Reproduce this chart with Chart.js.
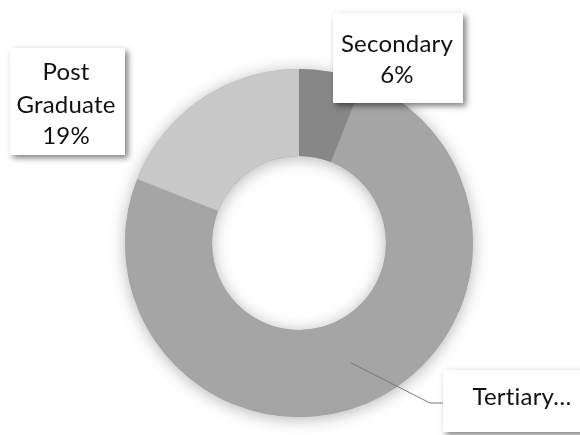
<!DOCTYPE html>
<html>
<head>
<meta charset="utf-8">
<script src="https://cdn.jsdelivr.net/npm/chart.js@4.4.1/dist/chart.umd.min.js"></script>
<style>
  html, body { margin: 0; padding: 0; background: #ffffff; }
  #wrap { width: 580px; height: 435px; position: relative; }
</style>
</head>
<body>
<div id="wrap"><canvas id="c" width="580" height="435"></canvas></div>
<script>
// Education level shares (percent)
const categories = ['Secondary', 'Tertiary', 'Post Graduate'];
const shares = [6, 75, 19];
const sliceColors = ['#878787', '#a5a5a5', '#c8c8c8'];

const FONT = '24px Lato, "Open Sans", sans-serif';

// Callout boxes: rectangle, text centre, line baselines, and how the label text is built
const callouts = [
  { x: 333, y: 13, w: 130, h: 90, cx: 397, baselines: [52, 83],
    lines: (name, v) => [name, v + '%'] },
  { x: 443, y: 370, w: 150, h: 62, cx: 522, baselines: [405],
    lines: (name) => [name + '\u2026'], leader: { elbowX: 430, elbowY: 403, endX: 444 } },
  { x: 10, y: 48, w: 115, h: 107, cx: 66, baselines: [80, 113, 144],
    lines: (name, v) => [...name.split(' '), v + '%'] }
];

// Soft shadow under the whole ring, drawn before the slices
const ringShadow = {
  id: 'ringShadow',
  beforeDatasetsDraw(chart) {
    const arc = chart.getDatasetMeta(0).data[0];
    if (!arc) return;
    const { x, y, outerRadius, innerRadius } = arc.getProps(['x', 'y', 'outerRadius', 'innerRadius'], true);
    const ctx = chart.ctx;
    ctx.save();
    ctx.shadowColor = 'rgba(0,0,0,0.3)';
    ctx.shadowBlur = 16;
    ctx.shadowOffsetX = 0;
    ctx.shadowOffsetY = 2;
    ctx.fillStyle = '#a5a5a5';
    ctx.beginPath();
    ctx.arc(x, y, outerRadius, 0, Math.PI * 2);
    ctx.arc(x, y, innerRadius, 0, Math.PI * 2, true);
    ctx.fill('evenodd');
    ctx.restore();
  }
};

// Label boxes with shadows and optional leader lines
const calloutPlugin = {
  id: 'callouts',
  afterDatasetsDraw(chart) {
    const ctx = chart.ctx;
    const meta = chart.getDatasetMeta(0);
    const total = shares.reduce((a, b) => a + b, 0);
    callouts.forEach((c, i) => {
      const arc = meta.data[i];
      if (c.leader && arc) {
        const p = arc.tooltipPosition();
        ctx.save();
        ctx.strokeStyle = '#7a7a7a';
        ctx.lineWidth = 1;
        ctx.beginPath();
        ctx.moveTo(p.x, p.y);
        ctx.lineTo(c.leader.elbowX, c.leader.elbowY);
        ctx.lineTo(c.leader.endX, c.leader.elbowY);
        ctx.stroke();
        ctx.restore();
      }
      ctx.save();
      ctx.shadowColor = 'rgba(0,0,0,0.5)';
      ctx.shadowBlur = 6;
      ctx.shadowOffsetX = 3;
      ctx.shadowOffsetY = 3;
      ctx.fillStyle = '#ffffff';
      ctx.fillRect(c.x, c.y, c.w, c.h);
      ctx.restore();

      const pct = Math.round(shares[i] / total * 100);
      const lines = c.lines(categories[i], pct);
      ctx.save();
      ctx.font = FONT;
      if ('letterSpacing' in ctx) ctx.letterSpacing = '0.2px';
      ctx.fillStyle = '#111111';
      ctx.textAlign = 'center';
      ctx.textBaseline = 'alphabetic';
      lines.forEach((t, k) => ctx.fillText(t, c.cx, c.baselines[k]));
      ctx.restore();
    });
  }
};

new Chart(document.getElementById('c'), {
  type: 'doughnut',
  data: {
    labels: categories,
    datasets: [{
      data: shares,
      backgroundColor: sliceColors,
      borderWidth: 0
    }]
  },
  options: {
    responsive: false,
    animation: false,
    cutout: '50%',
    layout: { padding: { left: 125, right: 107, top: 69, bottom: 18 } },
    plugins: {
      legend: { display: false },
      tooltip: { enabled: false }
    }
  },
  plugins: [ringShadow, calloutPlugin]
});
</script>
</body>
</html>
